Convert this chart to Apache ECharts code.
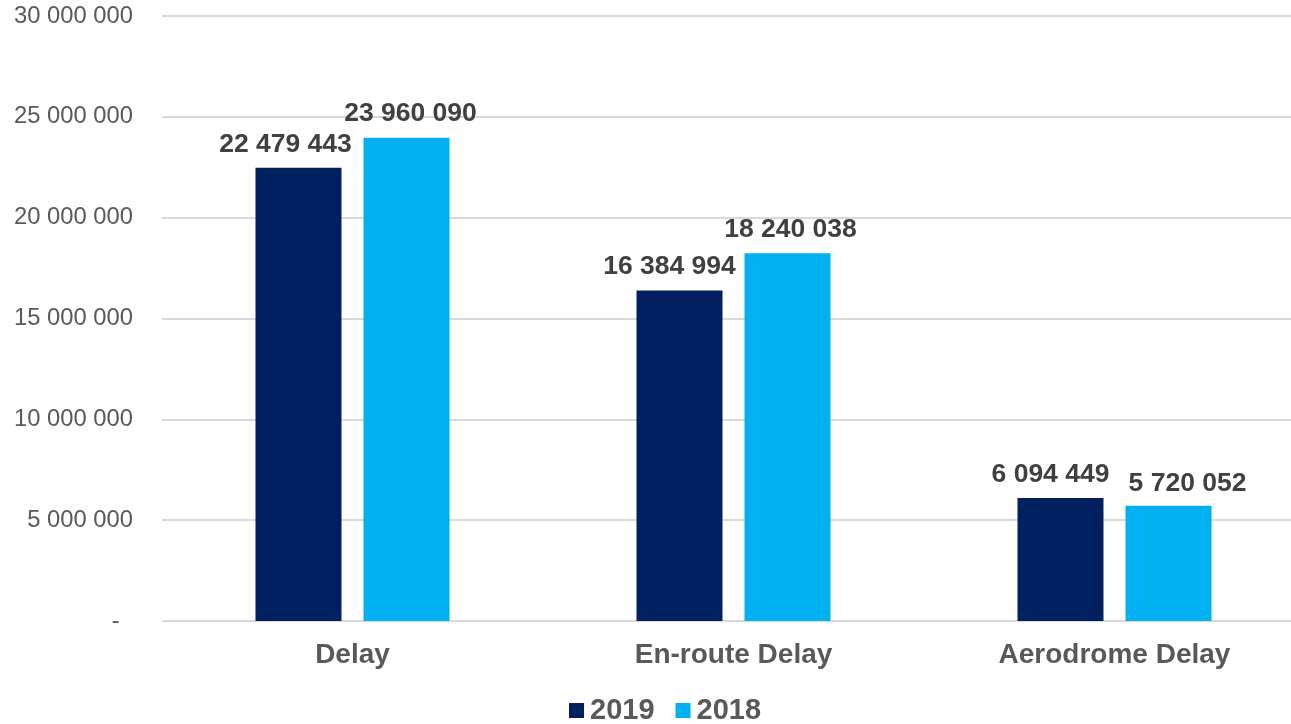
<!DOCTYPE html>
<html>
<head>
<meta charset="utf-8">
<script src="https://cdn.jsdelivr.net/npm/echarts@6/dist/echarts.min.js"></script>
<style>html,body{margin:0;padding:0;background:#fff;overflow:hidden;width:1291px;height:724px}#c{width:1305px;height:724px}</style>
</head>
<body>
<div id="c"></div>
<script>
const categories = ['Delay', 'En-route Delay', 'Aerodrome Delay'];
const values2019 = [22479443, 16384994, 6094449];
const values2018 = [23960090, 18240038, 5720052];
const seriesNames = ['2019', '2018'];

// label nudges (style only), as in the original where labels were hand-placed
const labelShift2019 = [[-13, 1], [-10, 0], [-10, 0]];
const labelShift2018 = [[4, -1], [3, 0], [19, 2]];

function fmt(v) {
  if (v === 0) return '-  ';
  return String(Math.round(v)).replace(/\B(?=(\d{3})+(?!\d))/g, ' ');
}

const FONT = 'Liberation Sans, Arial, sans-serif';
const labelStyle = {
  show: true, position: 'top', distance: 10,
  fontFamily: FONT, fontWeight: 'bold', fontSize: 26.5, color: '#404040',
  formatter: p => fmt(p.value)
};
function items(vals, shifts) {
  return vals.map((v, i) => ({value: v, label: {offset: shifts[i]}}));
}

const chart = echarts.init(document.getElementById('c'), null, {renderer: 'canvas'});
chart.setOption({
  animation: false,
  grid: {left: 162, right: 0, top: 16, bottom: 103, containLabel: false},
  legend: {
    bottom: -6, left: 564, itemWidth: 15, itemHeight: 15, itemGap: 21,
    icon: 'rect',
    textStyle: {fontFamily: FONT, fontWeight: 'bold', fontSize: 29, color: '#595959', padding: [0, 0, 0, 1]},
    data: seriesNames
  },
  xAxis: {
    type: 'category', data: categories,
    axisLine: {show: false}, axisTick: {show: false},
    axisLabel: {fontFamily: FONT, fontWeight: 'bold', fontSize: 28, color: '#595959', margin: 20}
  },
  yAxis: {
    type: 'value', min: 0, max: 30000000, interval: 5000000,
    axisLine: {show: false}, axisTick: {show: false},
    splitLine: {lineStyle: {color: '#d9d9d9', width: 2}},
    axisLabel: {fontFamily: FONT, fontSize: 23.8, color: '#595959', margin: 29, formatter: fmt}
  },
  series: [
    {name: seriesNames[0], type: 'bar', data: items(values2019, labelShift2019), barWidth: 86, barGap: '25.6%', itemStyle: {color: '#002060'}, label: labelStyle},
    {name: seriesNames[1], type: 'bar', data: items(values2018, labelShift2018), barWidth: 86, itemStyle: {color: '#00B0F0'}, label: labelStyle}
  ]
});
</script>
</body>
</html>
